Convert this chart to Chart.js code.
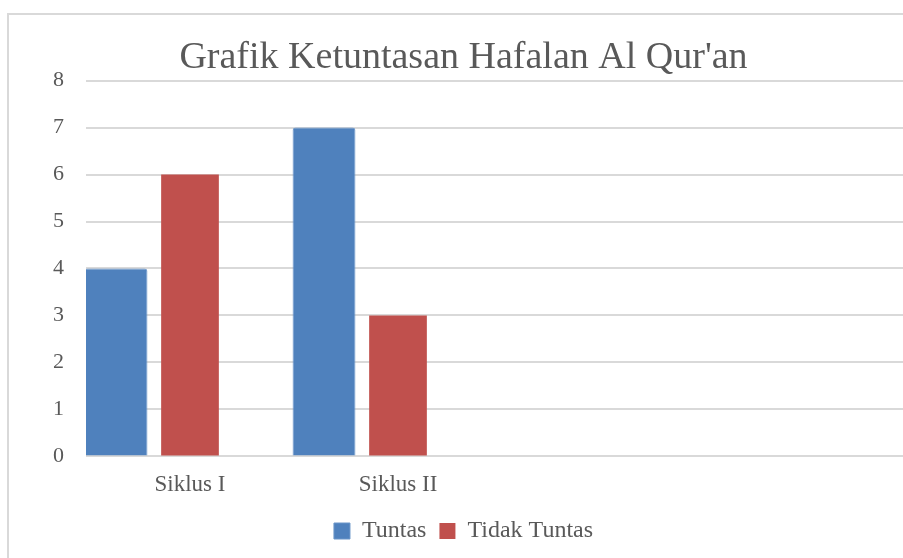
<!DOCTYPE html>
<html>
<head>
<meta charset="utf-8">
<script src="https://cdn.jsdelivr.net/npm/chart.js@4.4.1/dist/chart.umd.min.js"></script>
<style>
  html, body { margin: 0; padding: 0; background: #fff; overflow: hidden; }
  #clip { position: relative; width: 903px; height: 558px; overflow: hidden; }
  #wrap {
    position: absolute; left: 7px; top: 13px;
    width: 910px; height: 560px;
    border: 2px solid #d9d9d9;
  }
  #chartBar { display: block; width: 910px; height: 560px; }
</style>
</head>
<body>
<div id="clip"><div id="wrap"><canvas id="chartBar" width="910" height="560"></canvas></div></div>
<script>
const categories = ["Siklus I", "Siklus II", "", ""];
const tuntas = [4, 7];
const tidakTuntas = [6, 3];
const yTicks = [0, 1, 2, 3, 4, 5, 6, 7, 8];

const textColor = "#595959";
const serif = "'Liberation Serif', 'Times New Roman', serif";

const chartBar = new Chart("chartBar", {
    type: "bar",
    data: {
    labels: categories,
    datasets: [
        {
        label: "Tuntas",
        data: tuntas,
        backgroundColor: "#4f81bd",
        borderColor: "#6a95c9",
        borderWidth: 1,
        borderRadius: { topLeft: 3, topRight: 3 },
        borderSkipped: "bottom",
        barPercentage: 0.85,
        categoryPercentage: 1.067,
        },
        {
        label: "Tidak Tuntas",
        data: tidakTuntas,
        backgroundColor: "#c0504d",
        borderWidth: 0,
        barPercentage: 0.78,
        categoryPercentage: 1.067,
        },
        {
        // empty third series from the source sheet, keeps the spacing
        label: "",
        data: [],
        backgroundColor: "rgba(0,0,0,0)",
        barPercentage: 0.8,
        categoryPercentage: 1.067,
        },
    ],
    },
    options: {
    responsive: false,
    animation: false,
    layout: { padding: { top: 0, right: 1, bottom: 22, left: 0 } },
    plugins: {
        title: {
        display: true,
        text: "Grafik Ketuntasan Hafalan Al Qur'an",
        color: textColor,
        font: { family: serif, size: 38, weight: "normal" },
        padding: { top: 20, bottom: 0 },
        },
        legend: {
        position: "bottom",
        labels: {
            color: textColor,
            font: { family: serif, size: 24 },
            boxWidth: 16,
            boxHeight: 16,
            padding: 13,
            filter: (item) => item.text !== "",
        },
        },
        tooltip: { enabled: false },
    },
    scales: {
        y: {
        min: 0,
        max: 8,
        afterFit: (scale) => { scale.width = 77; },
        afterBuildTicks: (scale) => { scale.ticks = yTicks.map((v) => ({ value: v })); },
        grid: {
            color: "#d9d9d9",
            lineWidth: 2,
            drawTicks: false,
        },
        border: { display: false },
        ticks: {
            color: textColor,
            padding: 22,
            font: { family: serif, size: 22 },
        },
        },
        x: {
        grid: { display: false },
        border: { display: false },
        ticks: {
            color: textColor,
            padding: 7,
            font: { family: serif, size: 23 },
        },
        },
    },
    },
});
</script>
</body>
</html>
